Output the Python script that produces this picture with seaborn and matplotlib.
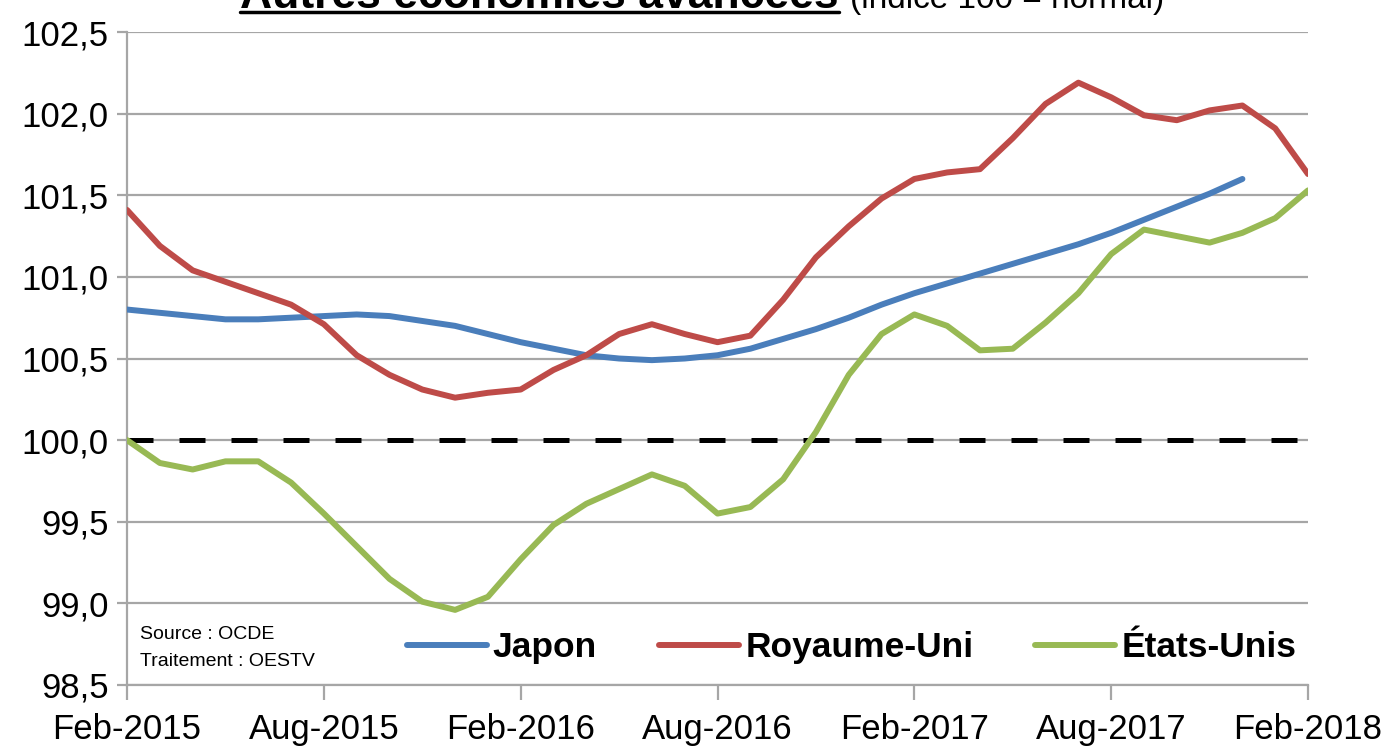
# Indicateurs avancés - autres économies avancées (indice 100 = normal)
import matplotlib.pyplot as plt
import pandas as pd
import numpy as np
import seaborn as sns

# monthly values, Feb-2015 .. Feb-2018 (37 points)
months = list(range(37))
japon = [100.80, 100.78, 100.76, 100.74, 100.74, 100.75, 100.76, 100.77, 100.76, 100.73,
         100.70, 100.65, 100.60, 100.56, 100.52, 100.50, 100.49, 100.50, 100.52, 100.56,
         100.62, 100.68, 100.75, 100.83, 100.90, 100.96, 101.02, 101.08, 101.14, 101.20,
         101.27, 101.35, 101.43, 101.51, 101.60, np.nan, np.nan]
royaume_uni = [101.41, 101.19, 101.04, 100.97, 100.90, 100.83, 100.71, 100.52, 100.40, 100.31,
               100.26, 100.29, 100.31, 100.43, 100.52, 100.65, 100.71, 100.65, 100.60, 100.64,
               100.86, 101.12, 101.31, 101.48, 101.60, 101.64, 101.66, 101.85, 102.06, 102.19,
               102.10, 101.99, 101.96, 102.02, 102.05, 101.91, 101.63]
etats_unis = [100.00, 99.86, 99.82, 99.87, 99.87, 99.74, 99.55, 99.35, 99.15, 99.01,
              98.96, 99.04, 99.27, 99.48, 99.61, 99.70, 99.79, 99.72, 99.55, 99.59,
              99.76, 100.05, 100.40, 100.65, 100.77, 100.70, 100.55, 100.56, 100.72, 100.90,
              101.14, 101.29, 101.25, 101.21, 101.27, 101.36, 101.53]

series_names = ["Japon", "Royaume-Uni", "États-Unis"]
colors = ["#4A7EBB", "#BE4B48", "#98B954"]

x_tick_pos = [0, 6, 12, 18, 24, 30, 36]
x_tick_labels = ["Feb-2015", "Aug-2015", "Feb-2016", "Aug-2016", "Feb-2017", "Aug-2017", "Feb-2018"]
y_tick_pos = [98.5, 99.0, 99.5, 100.0, 100.5, 101.0, 101.5, 102.0, 102.5]
y_tick_labels = ["98,5", "99,0", "99,5", "100,0", "100,5", "101,0", "101,5", "102,0", "102,5"]

df = pd.DataFrame({"mois": months * 3,
                   "valeur": japon + royaume_uni + etats_unis,
                   "pays": [n for n in series_names for _ in months]})

sns.set_style("white")
plt.rcParams['font.family'] = ['Liberation Sans', 'DejaVu Sans']
plt.rcParams['text.color'] = 'black'
plt.rcParams['xtick.labelcolor'] = 'black'
plt.rcParams['ytick.labelcolor'] = 'black'

fig = plt.figure(figsize=(13.84, 7.49), dpi=100)
ax = fig.add_axes([0.0918, 0.0855, 0.8533, 0.8717])

ax.axhline(100, color="black", lw=3.6, dashes=(5.2, 5.2), zorder=1)
sns.lineplot(data=df, x="mois", y="valeur", hue="pays", hue_order=series_names,
             palette=colors, lw=4.3, solid_capstyle="round", solid_joinstyle="round",
             ax=ax, zorder=3)

ax.set_xlim(0, 36)
ax.set_ylim(98.5, 102.5)
ax.set_xticks(x_tick_pos)
ax.set_xticklabels(x_tick_labels, fontsize=25)
ax.set_yticks(y_tick_pos)
ax.set_yticklabels(y_tick_labels, fontsize=25)
ax.set_xlabel("")
ax.set_ylabel("")
ax.grid(axis="y", color="#A6A6A6", lw=1.6)
ax.grid(axis="x", visible=False)
for s in ["top", "right"]:
    ax.spines[s].set_visible(False)
for s in ["left", "bottom"]:
    ax.spines[s].set_color("#A6A6A6")
    ax.spines[s].set_linewidth(1.6)
ax.tick_params(axis="x", length=11, width=1.6, color="#A6A6A6", direction="out", pad=9, bottom=True)
ax.tick_params(axis="y", length=7, width=1.6, color="#A6A6A6", direction="out", pad=6, left=True)

handles, labels = ax.get_legend_handles_labels()
ax.legend(handles, labels, ncol=3, loc="center", bbox_to_anchor=(0.6135, 0.057),
          frameon=False, prop={"weight": "bold", "size": 25.5},
          handlelength=2.25, handletextpad=0.18, columnspacing=1.75)

ax.text(0.011, 0.077, "Source : OCDE", transform=ax.transAxes, fontsize=14, va="center")
ax.text(0.011, 0.036, "Traitement : OESTV", transform=ax.transAxes, fontsize=14, va="center")

# titre coupé en haut
t1 = fig.text(0.606, 0.989, "Autres économies avancées", ha="right", va="baseline",
              fontsize=32, fontweight="bold")
t2 = fig.text(0.614, 0.989, "(indice 100 = normal)", ha="left", va="baseline", fontsize=24)
fig.canvas.draw()
bb = t1.get_window_extent(fig.canvas.get_renderer()).transformed(fig.transFigure.inverted())
fig.add_artist(plt.Line2D([bb.x0, bb.x1], [0.984, 0.984], color="black", lw=2.5))

plt.savefig("out.png", dpi=100)
